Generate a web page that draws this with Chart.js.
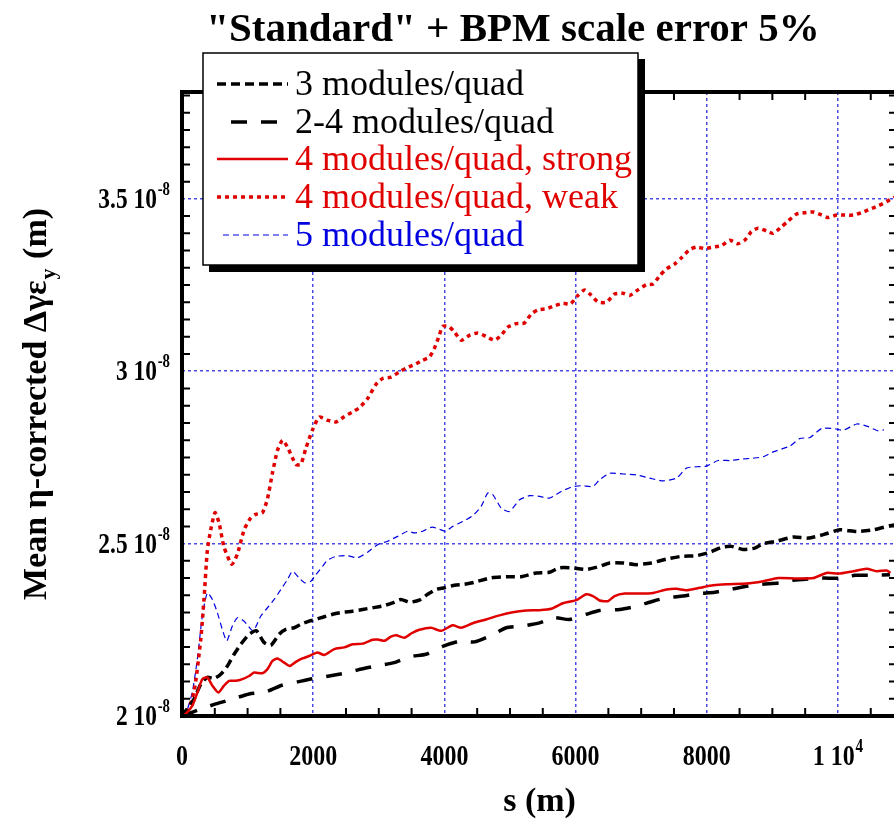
<!DOCTYPE html>
<html>
<head>
<meta charset="utf-8">
<script src="https://cdn.jsdelivr.net/npm/chart.js@4.4.1/dist/chart.umd.min.js"></script>
<style>
html,body{margin:0;padding:0;overflow:hidden;background:#fff;}
canvas{display:block;}
</style>
</head>
<body>
<canvas id="c" width="900" height="823"></canvas>
<script>
// ---- data (s in m, emittance growth in units of 1e-8 m) ----
const s3  = [0,183,285,386,489,591,692,794,896,1023,1135,1252,1354,1481,1583,1710,1812,1939,2041,2168,2295,2448,2600,2753,2906,3058,3211,3339,3466,3618,3745,3873,4000,4153,4305,4458,4713,4942,5171,5400,5603,5756,5934,6163,6366,6519,6723,6927,7156,7385,7613,7842,8046,8223,8376,8553,8733,8861,9064,9318,9547,9776,10031,10285,10539,10794,10900];
const e3  = [2.0,2.049,2.092,2.112,2.109,2.121,2.145,2.179,2.208,2.237,2.247,2.213,2.205,2.237,2.251,2.256,2.266,2.275,2.28,2.288,2.295,2.301,2.304,2.309,2.314,2.319,2.328,2.338,2.33,2.336,2.353,2.367,2.372,2.379,2.382,2.388,2.401,2.404,2.404,2.415,2.417,2.43,2.43,2.425,2.434,2.444,2.444,2.439,2.444,2.455,2.463,2.465,2.475,2.489,2.492,2.483,2.487,2.50,2.507,2.519,2.516,2.526,2.54,2.535,2.54,2.552,2.556];

const s24 = [0,285,514,768,1023,1278,1532,1761,1990,2244,2499,2753,2982,3237,3466,3720,3974,4229,4458,4713,4942,5196,5450,5679,5908,6163,6366,6672,6901,7181,7385,7639,7868,8122,8352,8631,8835,9115,9318,9573,9776,10031,10260,10539,10794];
const e24 = [2.0,2.02,2.035,2.049,2.064,2.07,2.09,2.099,2.108,2.116,2.125,2.137,2.146,2.155,2.172,2.179,2.202,2.217,2.215,2.234,2.256,2.261,2.27,2.285,2.28,2.295,2.306,2.309,2.317,2.333,2.343,2.348,2.355,2.359,2.367,2.377,2.382,2.386,2.394,2.398,2.40,2.40,2.408,2.408,2.41];

const s4s = [0,56,158,234,310,386,463,554,641,718,820,921,1023,1099,1226,1303,1379,1455,1557,1644,1736,1837,1939,2066,2168,2321,2473,2600,2753,2906,2982,3084,3186,3263,3389,3500,3618,3797,3950,4127,4255,4432,4636,4840,5043,5247,5450,5629,5807,6010,6163,6265,6366,6494,6596,6748,6977,7181,7385,7538,7691,7893,8097,8301,8606,8861,9090,9370,9624,9827,10005,10234,10438,10590,10743,10800];
const e4s = [2.0,2.006,2.03,2.068,2.107,2.112,2.088,2.068,2.088,2.102,2.102,2.107,2.116,2.126,2.124,2.136,2.16,2.167,2.155,2.145,2.157,2.167,2.174,2.184,2.177,2.194,2.199,2.208,2.21,2.221,2.222,2.218,2.23,2.234,2.227,2.24,2.25,2.256,2.247,2.263,2.256,2.269,2.28,2.292,2.301,2.306,2.307,2.311,2.327,2.336,2.353,2.348,2.335,2.333,2.348,2.355,2.355,2.357,2.367,2.369,2.365,2.372,2.379,2.382,2.384,2.391,2.40,2.399,2.40,2.415,2.413,2.42,2.427,2.42,2.422,2.415];

const s4w = [0,60,183,285,336,386,438,504,565,641,759,845,947,1049,1125,1226,1303,1379,1455,1532,1608,1736,1812,1889,1990,2092,2219,2346,2473,2600,2702,2830,2957,3058,3186,3313,3415,3542,3669,3771,3847,3913,3974,4066,4153,4255,4382,4509,4636,4763,4866,4967,5095,5221,5324,5425,5552,5679,5807,5920,6035,6137,6240,6341,6469,6596,6723,6825,6952,7080,7181,7283,7385,7511,7613,7740,7842,7969,8095,8223,8350,8476,8579,8681,8782,8910,9013,9140,9241,9370,9496,9623,9751,9852,9980,10107,10234,10362,10489,10616,10743,10860];
const e4w = [2.0,2.0,2.07,2.22,2.34,2.48,2.54,2.59,2.56,2.49,2.44,2.47,2.54,2.575,2.585,2.59,2.63,2.705,2.77,2.80,2.78,2.73,2.73,2.777,2.83,2.867,2.858,2.853,2.868,2.882,2.894,2.921,2.962,2.979,2.983,2.998,3.009,3.019,3.032,3.041,3.066,3.099,3.13,3.13,3.114,3.09,3.104,3.111,3.101,3.09,3.104,3.128,3.138,3.14,3.166,3.178,3.181,3.19,3.197,3.195,3.22,3.236,3.22,3.201,3.20,3.224,3.226,3.22,3.236,3.251,3.253,3.277,3.297,3.311,3.329,3.353,3.36,3.356,3.36,3.364,3.38,3.37,3.38,3.405,3.415,3.407,3.40,3.419,3.436,3.456,3.46,3.462,3.453,3.446,3.453,3.453,3.453,3.46,3.47,3.48,3.492,3.505];

const s5  = [0,66,158,234,310,386,463,539,615,682,768,845,947,1084,1201,1303,1405,1507,1608,1684,1786,1878,1965,2041,2142,2219,2346,2524,2677,2830,2982,3135,3287,3440,3542,3669,3812,3924,4015,4127,4280,4432,4560,4662,4738,4866,4992,5145,5298,5450,5603,5781,5934,6087,6265,6366,6519,6723,6927,7130,7334,7538,7691,7842,7995,8173,8352,8530,8708,8861,9013,9267,9420,9573,9751,9929,10081,10285,10438,10616,10700];
const e5  = [2.0,2.011,2.07,2.165,2.29,2.357,2.338,2.30,2.251,2.218,2.261,2.285,2.275,2.247,2.29,2.314,2.338,2.367,2.396,2.42,2.40,2.386,2.391,2.41,2.434,2.452,2.463,2.465,2.459,2.475,2.497,2.507,2.521,2.536,2.531,2.536,2.548,2.542,2.536,2.55,2.564,2.581,2.608,2.647,2.642,2.603,2.593,2.627,2.639,2.637,2.632,2.651,2.664,2.668,2.666,2.685,2.704,2.702,2.699,2.69,2.682,2.69,2.719,2.723,2.725,2.741,2.741,2.745,2.748,2.752,2.766,2.783,2.805,2.808,2.834,2.834,2.829,2.847,2.841,2.827,2.83];

const seriesNames = ['3 modules/quad','2-4 modules/quad','4 modules/quad, strong','4 modules/quad, weak','5 modules/quad'];
const xTickValues = [0,2000,4000,6000,8000,10000];
const xTickLabels = ['0','2000','4000','6000','8000','1 10^4'];
const yTickValues = [2.0,2.5,3.0,3.5];
const yTickLabels = ['2 10^-8','2.5 10^-8','3 10^-8','3.5 10^-8'];
const titleText = '"Standard" + BPM scale error 5%';
const xTitle = 's (m)';
const yTitleParts = ['Mean \u03b7-corrected \u0394\u03b3\u03b5', 'y', ' (m)'];

// ---- styles ----
const RED = '#e00000', BLUE = '#0000e0', BLACK = '#000000';
const styles = [
  {color: BLACK, width: 3.5, dash: [9, 5]},
  {color: BLACK, width: 3.5, dash: [16, 14]},
  {color: RED,   width: 2.5, dash: []},
  {color: RED,   width: 3.5, dash: [4, 4]},
  {color: BLUE,  width: 1.2, dash: [6, 4]}
];
const SERIF = '"Liberation Serif", "Times New Roman", serif';

function pts(xs, ys){ return xs.map((x,i)=>({x:x, y:ys[i]})); }
const allX = [s3, s24, s4s, s4w, s5];
const allY = [e3, e24, e4s, e4w, e5];
const datasets = seriesNames.map((n,i)=>({
  label: n, data: pts(allX[i], allY[i]),
  borderColor: styles[i].color, borderWidth: styles[i].width, borderDash: styles[i].dash,
  pointRadius: 0, fill: false, tension: 0.2, borderCapStyle: 'butt', borderJoinStyle: 'round'
}));
const order = [4,3,1,0,2];
order.forEach((k,idx)=>{ datasets[k].order = 10-idx; });

function splitSup(label){ const i=label.indexOf('^'); return i<0?[label,'']:[label.slice(0,i),label.slice(i+1)]; }
// draws "base^sup" text, horizontally condensed by sx
function drawRich(ctx, label, x, y, align, baseFont, supFont, rise, sx){
  const [b,s] = splitSup(label);
  ctx.font = baseFont; const wb = ctx.measureText(b).width * sx;
  ctx.font = supFont; const ws = s ? (ctx.measureText(s).width + 1) * sx : 0;
  const w = wb + ws;
  const x0 = align==='center' ? x - w/2 : (align==='right' ? x - w : x);
  ctx.textAlign = 'left'; ctx.textBaseline = 'alphabetic';
  ctx.save(); ctx.translate(x0, y); ctx.scale(sx, 1);
  ctx.font = baseFont; ctx.fillText(b, 0, 0);
  if (s){ ctx.font = supFont; ctx.fillText(s, wb/sx + 1, -rise); }
  ctx.restore();
}

const decor = {
  id: 'decor',
  afterDraw(chart){
    const ctx = chart.ctx, a = chart.chartArea;
    const xs = chart.scales.x, ys = chart.scales.y;
    ctx.save();
    // minor ticks
    ctx.strokeStyle = BLACK; ctx.lineWidth = 2; ctx.setLineDash([]);
    const TL = 8;
    for (let v = 500; v < xs.max; v += 500){
      if (v % 2000 === 0) continue;
      const p = xs.getPixelForValue(v);
      ctx.beginPath(); ctx.moveTo(p, a.bottom); ctx.lineTo(p, a.bottom - TL);
      ctx.moveTo(p, a.top); ctx.lineTo(p, a.top + TL); ctx.stroke();
    }
    for (let k = 1; k * 0.05 + 2.0 < ys.max; k++){
      if (k % 10 === 0) continue;
      const p = ys.getPixelForValue(2.0 + k*0.05);
      ctx.beginPath(); ctx.moveTo(a.left, p); ctx.lineTo(a.left + TL, p);
      ctx.moveTo(a.right, p); ctx.lineTo(a.right - TL, p); ctx.stroke();
    }
    // frame
    ctx.lineWidth = 4; ctx.strokeRect(a.left, a.top, a.right - a.left, a.bottom - a.top);
    // tick labels
    ctx.fillStyle = BLACK;
    xTickValues.forEach((v,i)=>{
      drawRich(ctx, xTickLabels[i], xs.getPixelForValue(v), 765, 'center',
        'bold 30px ' + SERIF, 'bold 19px ' + SERIF, 13, 0.8);
    });
    yTickValues.forEach((v,i)=>{
      drawRich(ctx, yTickLabels[i], 170, ys.getPixelForValue(v) + 9, 'right',
        'bold 30px ' + SERIF, 'bold 19px ' + SERIF, 13, 0.78);
    });
    // axis titles
    ctx.font = 'bold 34px ' + SERIF; ctx.textAlign = 'center'; ctx.textBaseline = 'alphabetic';
    ctx.fillText(xTitle, (a.left + a.right)/2, 811);
    // y title rotated with subscript
    ctx.save();
    ctx.translate(46, (a.top + a.bottom)/2);
    ctx.rotate(-Math.PI/2);
    const f1 = 'bold 34px ' + SERIF, f2 = 'bold 22px ' + SERIF;
    ctx.font = f1; const w1 = ctx.measureText(yTitleParts[0]).width, w3 = ctx.measureText(yTitleParts[2]).width;
    ctx.font = f2; const w2 = ctx.measureText(yTitleParts[1]).width + 2;
    let x0 = -(w1 + w2 + w3)/2;
    ctx.textAlign = 'left';
    ctx.font = f1; ctx.fillText(yTitleParts[0], x0, 0);
    ctx.font = f2; ctx.fillText(yTitleParts[1], x0 + w1 + 1, 9);
    ctx.font = f1; ctx.fillText(yTitleParts[2], x0 + w1 + w2, 0);
    ctx.restore();
    // title
    ctx.font = 'bold 41px ' + SERIF; ctx.textAlign = 'center';
    ctx.fillText(titleText, 513, 41);
    // legend box
    const L = 203, T = 53, R = 638, B = 265;
    ctx.fillStyle = BLACK;
    ctx.fillRect(R, T + 6, 7, B - T);
    ctx.fillRect(L + 6, B, R - L + 1, 7);
    ctx.fillStyle = '#ffffff'; ctx.fillRect(L, T, R - L, B - T);
    ctx.strokeStyle = BLACK; ctx.lineWidth = 1.5; ctx.strokeRect(L, T, R - L, B - T);
    const rowBase = [95, 133, 170, 208, 246];
    const textCol = [BLACK, BLACK, RED, RED, BLUE];
    const sampleStart = [217, 231, 217, 217, 223];
    seriesNames.forEach((n,i)=>{
      const yl = rowBase[i] - 11;
      ctx.strokeStyle = styles[i].color; ctx.lineWidth = styles[i].width;
      ctx.setLineDash(styles[i].dash); ctx.lineCap = 'butt';
      ctx.beginPath(); ctx.moveTo(sampleStart[i], yl); ctx.lineTo(288, yl); ctx.stroke();
      ctx.setLineDash([]);
      ctx.fillStyle = textCol[i]; ctx.font = '36px ' + SERIF; ctx.textAlign = 'left';
      ctx.fillText(n, 295, rowBase[i]);
    });
    ctx.restore();
  }
};

const gridCfg = {color: '#4a4ae6', lineWidth: 1.5, drawTicks: false};
new Chart(document.getElementById('c').getContext('2d'), {
  type: 'line',
  data: {datasets: datasets},
  options: {
    responsive: false, animation: false, devicePixelRatio: 1,
    layout: {padding: {left: 0, right: 3, top: 92, bottom: 0}},
    plugins: {legend: {display: false}, title: {display: false}, tooltip: {enabled: false}},
    scales: {
      x: {type: 'linear', min: 0, max: 10900,
          ticks: {display: false},
          afterBuildTicks: s => { s.ticks = xTickValues.map(v => ({value: v})); },
          grid: gridCfg, border: {display: false, dash: [3, 3]},
          afterFit: s => { s.height = 107; }},
      y: {type: 'linear', min: 2.0, max: 3.81,
          ticks: {display: false},
          afterBuildTicks: s => { s.ticks = yTickValues.map(v => ({value: v})); },
          grid: gridCfg, border: {display: false, dash: [3, 3]},
          afterFit: s => { s.width = 182; }}
    }
  },
  plugins: [decor]
});
</script>
</body>
</html>
